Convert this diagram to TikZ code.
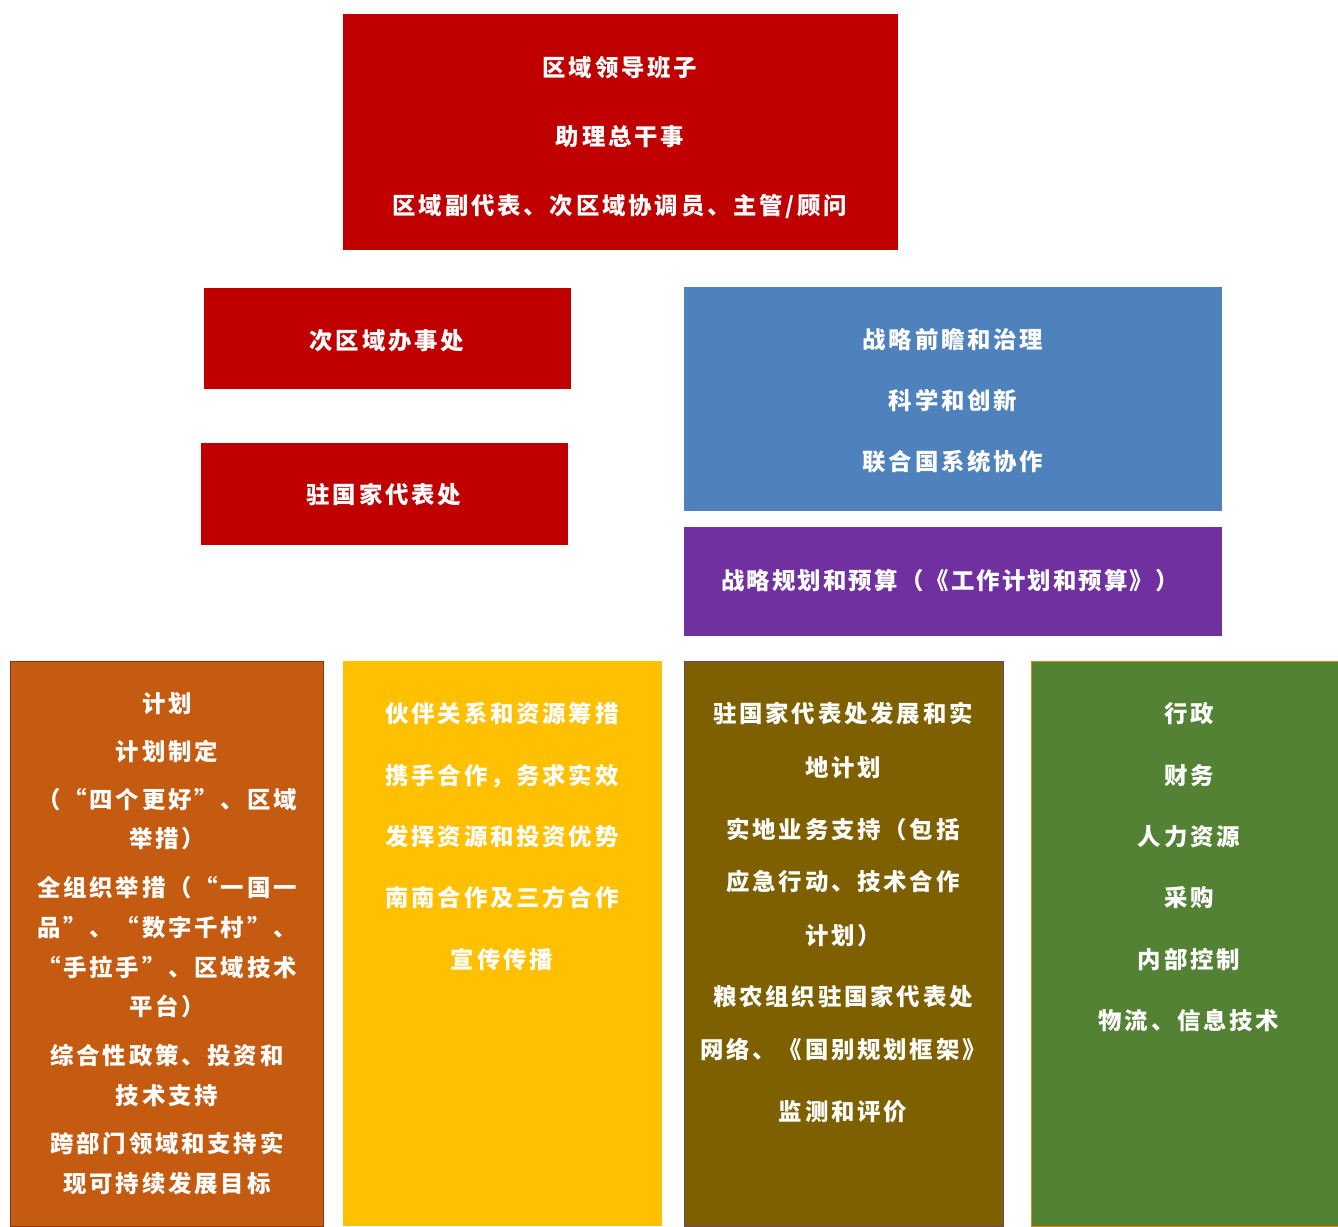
\documentclass[tikz,border=0pt]{standalone}
\usepackage{fontspec}
\newfontfamily\cjk[LetterSpace=12]{Noto Sans CJK SC}
\newfontfamily\cjktight[LetterSpace=9]{Noto Sans CJK SC}
\definecolor{cRed}{HTML}{C00000}
\definecolor{cBlue}{HTML}{4F81BD}
\definecolor{cPurple}{HTML}{7030A0}
\definecolor{cOrange}{HTML}{C55A11}
\definecolor{cYellow}{HTML}{FFC000}
\definecolor{cBrown}{HTML}{7F6000}
\definecolor{cGreen}{HTML}{548235}
\tikzset{
  box/.style={rectangle, inner sep=0pt, outer sep=0pt},
  t/.style={text=white, font=\cjk\bfseries\fontsize{23.5}{27}\selectfont, anchor=base, inner sep=0pt},
  tt/.style={text=white, font=\cjktight\bfseries\fontsize{23.5}{27}\selectfont, anchor=base, inner sep=0pt}
}
\begin{document}
\begin{tikzpicture}[x=1bp,y=-1bp]
\useasboundingbox (0,0) rectangle (1338,1226);
% boxes
\node[box, fill=cRed, minimum width=555bp, minimum height=236bp] (lead) at (620.5,132) {};
\node[box, fill=cRed, minimum width=367bp, minimum height=101bp] (sub) at (387.5,338.5) {};
\node[box, fill=cRed, minimum width=367bp, minimum height=102bp] (cty) at (384.5,494) {};
\node[box, fill=cBlue, minimum width=538bp, minimum height=224bp] (strat) at (953,399) {};
\node[box, fill=cPurple, minimum width=538bp, minimum height=109bp] (budget) at (953,581.5) {};
\node[box, fill=cOrange, draw=cOrange!80!red!70!black, line width=0.8bp, minimum width=313bp, minimum height=565bp] (prog) at (166.5,943.5) {};
\node[box, fill=cYellow, minimum width=319bp, minimum height=565bp] (part) at (502.5,943.5) {};
\node[box, fill=cBrown, draw=cPurple!60!cBrown, line width=0.8bp, minimum width=319bp, minimum height=565bp] (field) at (843.5,943.5) {};
\node[box, fill=cGreen, draw=cOrange!70!yellow, line width=0.8bp, minimum width=307bp, minimum height=565bp] (admin) at (1184.5,943.5) {};
% top box text
\node[t] (a1) at (620,76) {区域领导班子};
\node[t] (a2) at (620,145) {助理总干事};
\node[t] (a3) at (620,214) {区域副代表、次区域协调员、主管/顾问};
\node[t] (b1) at (387,349) {次区域办事处};
\node[t] (c1) at (384,503) {驻国家代表处};
% blue
\node[t] (d1) at (953,348) {战略前瞻和治理};
\node[t] (d2) at (953,409) {科学和创新};
\node[t] (d3) at (953,470) {联合国系统协作};
% purple
\node[tt] (e1) at (950,589) {战略规划和预算（《工作计划和预算》）};
% orange
\node[t] (f1) at (167,712) {计划};
\node[t] (f2) at (167,760) {计划制定};
\node[t] (f3) at (167,808) {（“四个更好”、区域};
\node[t] (f4) at (167,847) {举措）};
\node[t] (f5) at (167,896) {全组织举措（“一国一};
\node[t] (f6) at (167,936) {品”、“数字千村”、};
\node[t] (f7) at (167,976) {“手拉手”、区域技术};
\node[t] (f8) at (167,1015) {平台）};
\node[t] (f9) at (167,1064) {综合性政策、投资和};
\node[t] (f10) at (167,1104) {技术支持};
\node[t] (f11) at (167,1152) {跨部门领域和支持实};
\node[t] (f12) at (167,1192) {现可持续发展目标};
% yellow
\node[t] (g1) at (502,722) {伙伴关系和资源筹措};
\node[t] (g2) at (502,784) {携手合作，务求实效};
\node[t] (g3) at (502,845) {发挥资源和投资优势};
\node[t] (g4) at (502,906) {南南合作及三方合作};
\node[t] (g5) at (502,968) {宣传传播};
% brown
\node[t] (h1) at (843,722) {驻国家代表处发展和实};
\node[t] (h2) at (843,776) {地计划};
\node[t] (h3) at (843,838) {实地业务支持（包括};
\node[t] (h4) at (843,890) {应急行动、技术合作};
\node[t] (h5) at (843,944) {计划）};
\node[t] (h6) at (843,1005) {粮农组织驻国家代表处};
\node[t] (h7) at (843,1058) {网络、《国别规划框架》};
\node[t] (h8) at (843,1120) {监测和评价};
% green
\node[t] (k1) at (1189,722) {行政};
\node[t] (k2) at (1189,784) {财务};
\node[t] (k3) at (1189,845) {人力资源};
\node[t] (k4) at (1189,906) {采购};
\node[t] (k5) at (1189,968) {内部控制};
\node[t] (k6) at (1189,1029) {物流、信息技术};
\end{tikzpicture}
\end{document}
